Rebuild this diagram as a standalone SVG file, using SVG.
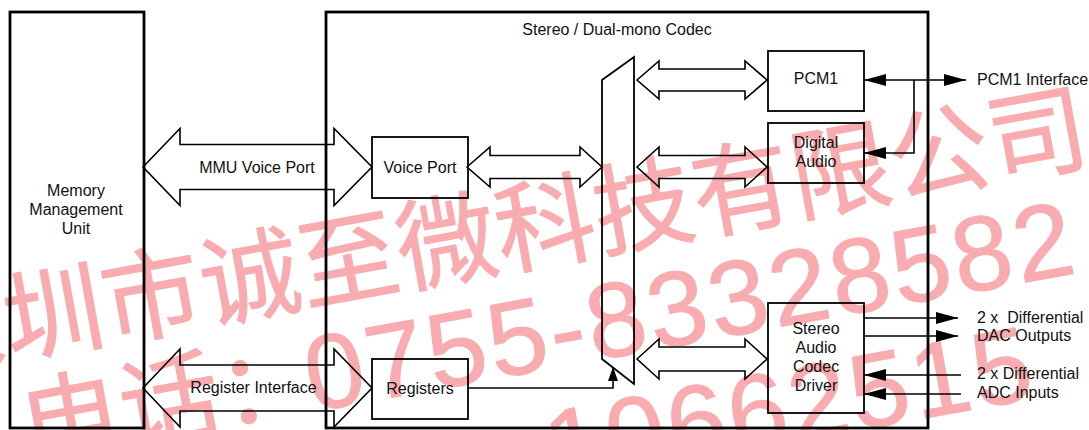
<svg xmlns="http://www.w3.org/2000/svg" width="1089" height="430" viewBox="0 0 1089 430">
<defs>
<style>
.t{font-family:"Liberation Sans",Arial,sans-serif;font-size:16px;fill:#111}
.m{text-anchor:middle}
.box{fill:none;stroke:#000;stroke-width:1.8}
.big{fill:none;stroke:#000;stroke-width:2.8}
.ba{fill:none;stroke:#000;stroke-width:1.6;stroke-linejoin:miter}
.ln{fill:none;stroke:#000;stroke-width:1.6}
.wm{font-family:"Liberation Sans","Noto Sans CJK SC",sans-serif;fill:#f9acb0;stroke:#f9acb0;stroke-width:1;stroke-linejoin:round}
</style>
<marker id="ah" viewBox="0 0 22 12" refX="22" refY="6" markerWidth="22" markerHeight="12" markerUnits="userSpaceOnUse" orient="auto-start-reverse">
<path d="M0,0 L22,6 L0,12 z" fill="#000"/>
</marker>
<marker id="ahs" viewBox="0 0 14 10" refX="14" refY="5" markerWidth="14" markerHeight="10" markerUnits="userSpaceOnUse" orient="auto">
<path d="M0,0 L14,5 L0,10 z" fill="#000"/>
</marker>
</defs>
<rect width="1089" height="430" fill="#fff"/>
<g id="watermark">
<text class="wm" font-size="100" transform="translate(-88,376) rotate(-10.3)">深圳市诚至微科技有限公司</text>
<g transform="translate(312,412) rotate(-10.3)">
<text class="wm" font-size="100" x="12" y="0" text-anchor="end">电话：</text>
<text class="wm" font-size="106" x="0" y="0" letter-spacing="3">0755-83328582</text>
</g>
<text class="wm" font-size="106" letter-spacing="3" transform="translate(552,486) rotate(-10.3)">10662515</text>
</g>
<g id="mmu">
<rect class="big" x="10" y="12" width="134" height="416"/>
<text class="t m" x="76" y="196">Memory</text>
<text class="t m" x="76" y="215">Management</text>
<text class="t m" x="76" y="234">Unit</text>
</g>
<g id="codec">
<rect class="big" x="326" y="12" width="602" height="416"/>
<text class="t m" x="617" y="35">Stereo / Dual-mono Codec</text>
</g>
<g id="voice-port">
<rect class="box" x="372" y="137" width="96" height="61"/>
<text class="t m" x="420" y="173">Voice Port</text>
</g>
<g id="registers">
<rect class="box" x="372" y="359" width="96" height="60"/>
<text class="t m" x="420" y="394">Registers</text>
</g>
<g id="mux">
<polygon class="box" points="602,80 634,57 634,384 602,359"/>
</g>
<g id="pcm1">
<rect class="box" x="768" y="51" width="96" height="60"/>
<text class="t m" x="816" y="84">PCM1</text>
</g>
<g id="digital-audio">
<rect class="box" x="768" y="123" width="96" height="60"/>
<text class="t m" x="816" y="148">Digital</text>
<text class="t m" x="816" y="167">Audio</text>
</g>
<g id="codec-driver">
<rect class="box" x="768" y="303" width="96" height="110"/>
<text class="t m" x="816" y="334">Stereo</text>
<text class="t m" x="816" y="353">Audio</text>
<text class="t m" x="816" y="372">Codec</text>
<text class="t m" x="816" y="391">Driver</text>
</g>
<g id="connectors">
<polygon class="ba" points="143,167 180,128.5 180,144.5 334,144.5 334,128.5 372,167 334,205.5 334,189.5 180,189.5 180,205.5"/>
<text class="t m" x="257" y="173">MMU Voice Port</text>
<polygon class="ba" points="143,388 180,349 180,365 334,365 334,349 372,388 334,427 334,411 180,411 180,427"/>
<text class="t m" x="253.5" y="393">Register Interface</text>
<polygon class="ba" points="467,167 490,147 490,155.5 580,155.5 580,147 602,167 580,187 580,178.5 490,178.5 490,187"/>
<polygon class="ba" points="637,80 659,61 659,69 745,69 745,61 767,80 745,99 745,91 659,91 659,99"/>
<polygon class="ba" points="637,167 659,147 659,155.5 745,155.5 745,147 767,167 745,187 745,178.5 659,178.5 659,187"/>
<polygon class="ba" points="637,359 659,339 659,347 745,347 745,339 767,359 745,379 745,371 659,371 659,379"/>
<path class="ln" d="M468,388 H613 V367" marker-end="url(#ahs)"/>
<path class="ln" d="M864,80 H966" marker-start="url(#ah)" marker-end="url(#ah)"/>
<path class="ln" d="M914,80 V153 H864" marker-end="url(#ah)"/>
<text class="t" x="977" y="85">PCM1 Interface</text>
<path class="ln" d="M864,318 H958" marker-end="url(#ah)"/>
<path class="ln" d="M864,336 H958" marker-end="url(#ah)"/>
<text class="t" x="977" y="323" style="white-space:pre">2 x  Differential</text>
<text class="t" x="977" y="341">DAC Outputs</text>
<path class="ln" d="M961,375 H864" marker-end="url(#ah)"/>
<path class="ln" d="M961,394 H864" marker-end="url(#ah)"/>
<text class="t" x="977" y="379">2 x Differential</text>
<text class="t" x="977" y="398">ADC Inputs</text>
</g>
</svg>
